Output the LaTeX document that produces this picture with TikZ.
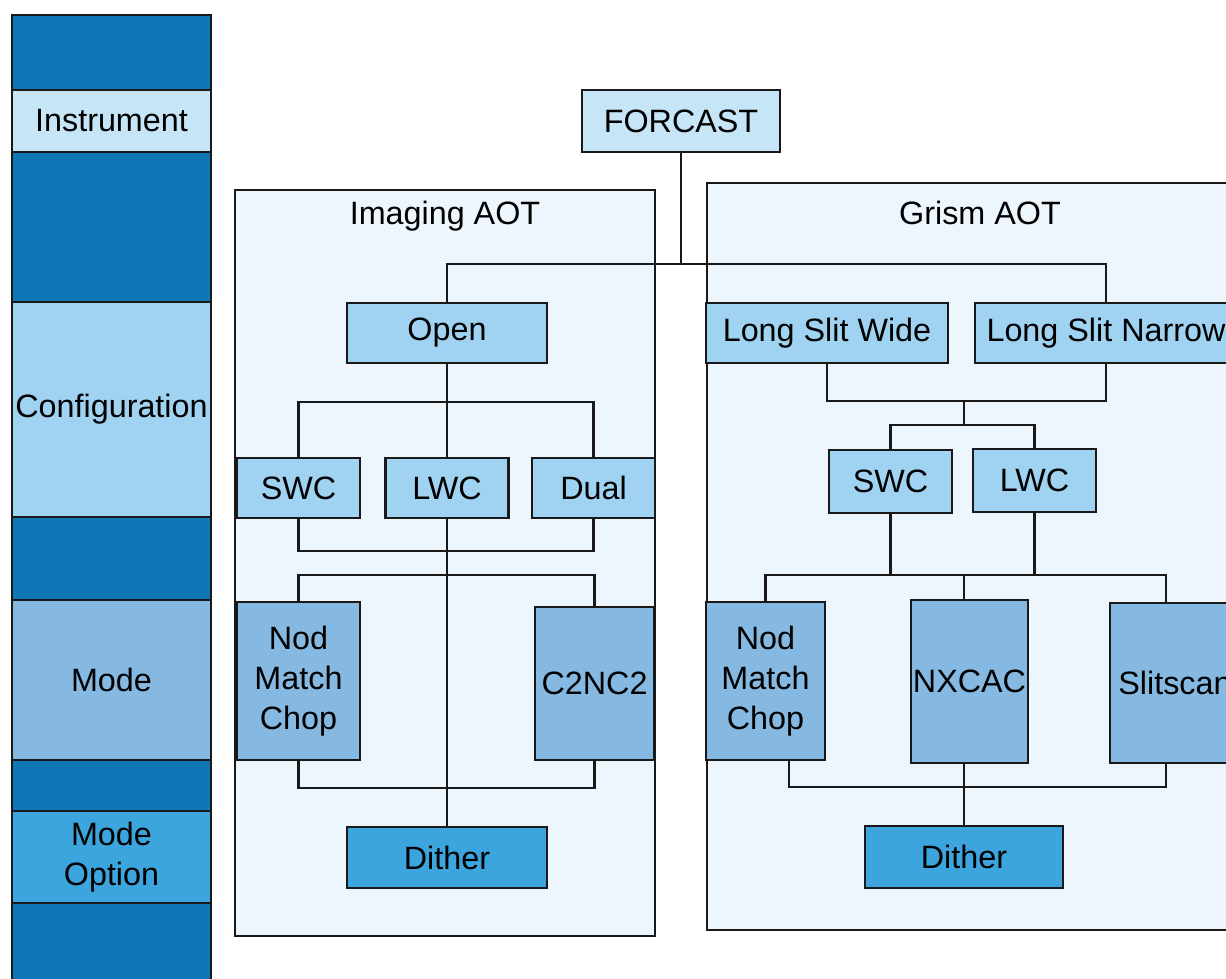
\documentclass[tikz,border=0pt]{standalone}
\usepackage{fontspec}
\setmainfont{Liberation Sans}
\usetikzlibrary{positioning}
\definecolor{BandDark}{RGB}{15,119,183}
\definecolor{InstFill}{RGB}{198,229,246}
\definecolor{CfgFill}{RGB}{160,211,242}
\definecolor{ModeFill}{RGB}{133,185,225}
\definecolor{OptFill}{RGB}{60,165,222}
\definecolor{AOTFill}{RGB}{238,246,253}
\definecolor{LineGrey}{RGB}{25,25,25}

\begin{document}
\begin{tikzpicture}[
    x=0.02cm, y=-0.02cm,
    every node/.style={font=\fontsize{18.4}{22.8}\selectfont},
    band/.style={rectangle, draw=LineGrey, line width=1.3pt, minimum width=3.98cm,
                 inner sep=0pt, outer sep=0pt, align=center},
    box/.style={rectangle, draw=LineGrey, line width=1.3pt, inner sep=0pt, align=center},
    aot/.style={rectangle, draw=LineGrey, line width=1.3pt, fill=AOTFill},
    link/.style={draw=LineGrey, line width=1.2pt}
]
\useasboundingbox (0,0) rectangle (1226,978);
\clip (0,0) rectangle (1226,978);
\fill[white] (0,0) rectangle (1226,978);

% Level column
\node[band, fill=BandDark, minimum height=1.5cm] (b0) at (111.5,52.5) {};
\node[band, fill=InstFill, minimum height=1.24cm, below=0pt of b0] (instrument) {Instrument};
\node[band, fill=BandDark, minimum height=3cm, below=0pt of instrument] (b1) {};
\node[band, fill=CfgFill, minimum height=4.3cm, below=0pt of b1] (configuration) {Configuration};
\node[band, fill=BandDark, minimum height=1.66cm, below=0pt of configuration] (b2) {};
\node[band, fill=ModeFill, minimum height=3.2cm, below=0pt of b2] (mode) {Mode};
\node[band, fill=BandDark, minimum height=1.02cm, below=0pt of mode] (b3) {};
\node[band, fill=OptFill, minimum height=1.84cm, below=0pt of b3] (modeopt) {Mode\\Option};
\node[band, fill=BandDark, minimum height=1.8cm, below=0pt of modeopt] (b4) {};

% AOT frames
\node[aot, minimum width=8.4cm, minimum height=14.92cm] (imaging) at (445,563) {};
\node[aot, minimum width=10.76cm, minimum height=14.94cm] (grism) at (976,556.5) {};
\node (imgtitle) at (445,216) {Imaging AOT};
\node (grtitle) at (980,213) {Grism AOT};

% Instrument
\node[box, fill=InstFill, minimum width=3.96cm, minimum height=1.24cm] (forcast) at (681,121) {FORCAST};

% Imaging tree
\node[box, fill=CfgFill, minimum width=4cm, minimum height=1.2cm] (open) at (447,333) {Open};
\node[box, fill=CfgFill, minimum width=2.46cm, minimum height=1.2cm] (swc1) at (298.5,488) {SWC};
\node[box, fill=CfgFill, minimum width=2.46cm, minimum height=1.2cm] (lwc1) at (447,488) {LWC};
\node[box, fill=CfgFill, minimum width=2.46cm, minimum height=1.2cm] (dual) at (593.5,488) {Dual};
\node[box, fill=ModeFill, minimum width=2.46cm, minimum height=3.16cm] (nod1) at (298.5,681) {Nod\\Match\\Chop};
\node[box, fill=ModeFill, minimum width=2.38cm, minimum height=3.06cm] (c2nc2) at (594.5,683.5) {C2NC2};
\node[box, fill=OptFill, minimum width=4cm, minimum height=1.22cm] (dith1) at (447,857.5) {Dither};

% Grism tree
\node[box, fill=CfgFill, minimum width=4.84cm, minimum height=1.2cm] (lsw) at (827,333) {Long Slit Wide};
\node[box, fill=CfgFill, minimum width=5.24cm, minimum height=1.2cm] (lsn) at (1106,333) {Long Slit Narrow};
\node[box, fill=CfgFill, minimum width=2.46cm, minimum height=1.26cm] (swc2) at (890.5,481.5) {SWC};
\node[box, fill=CfgFill, minimum width=2.46cm, minimum height=1.26cm] (lwc2) at (1034.5,480.5) {LWC};
\node[box, fill=ModeFill, minimum width=2.38cm, minimum height=3.16cm] (nod2) at (765.5,681) {Nod\\Match\\Chop};
\node[box, fill=ModeFill, minimum width=2.34cm, minimum height=3.26cm] (nxcac) at (969.5,681.5) {NXCAC};
\node[box, fill=ModeFill, minimum width=2.6cm, minimum height=3.2cm] (slit) at (1175,683) {Slitscan};
\node[box, fill=OptFill, minimum width=3.96cm, minimum height=1.24cm] (dith2) at (964,857) {Dither};

% Junctions
\coordinate (j1) at (681,264);
\coordinate (j2) at (447,402);
\coordinate (j3) at (447,575);
\coordinate (j4) at (964,401);
\coordinate (j5) at (964,425);
\coordinate (j6) at (964,575);
\coordinate (k1) at (1166,575);
\coordinate (k2) at (789,787);
\coordinate (k3) at (1166,787);

% Links
\draw[link] (forcast.south) -- (j1);
\draw[link] (open.north) |- (j1) -| (lsn.north);

\draw[link] (open.south) -- (j2);
\draw[link] (swc1.north) |- (j2) -| (dual.north);
\draw[link] (j2) -- (lwc1.north);
\draw[link] (swc1.south) -- ++(0,32) -| (dual.south);
\draw[link] (lwc1.south) -- (dith1.north);
\draw[link] (nod1.north) |- (j3) -| (c2nc2.north);
\draw[link] (nod1.south) -- ++(0,27) -| (c2nc2.south);

\draw[link] (lsw.south) |- (j4) -| (lsn.south);
\draw[link] (j4) -- (j5);
\draw[link] (swc2.north) |- (j5) -| (lwc2.north);
\draw[link] (swc2.south) -- (swc2.south |- j6);
\draw[link] (lwc2.south) -- (lwc2.south |- j6);
\draw[link] (nod2.north) |- (j6) -- (k1) -- (k1 |- slit.north);
\draw[link] (j6) -- (j6 |- nxcac.north);
\draw[link] (k2 |- nod2.south) -- (k2) -- (k3) -- (k3 |- slit.south);
\draw[link] (dith2.north) -- (dith2.north |- nxcac.south);

\end{tikzpicture}
\end{document}
